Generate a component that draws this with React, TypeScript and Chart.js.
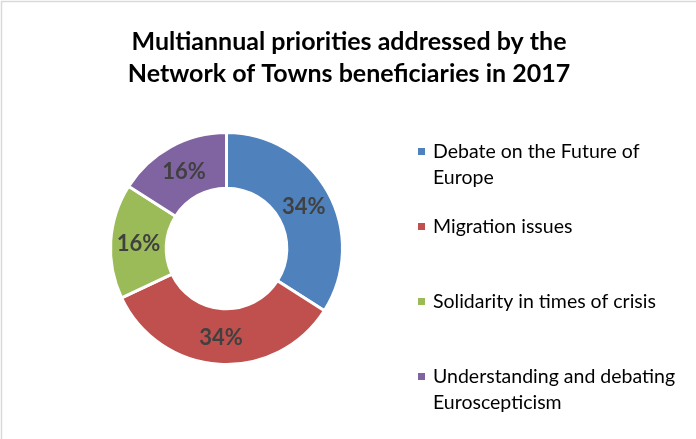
import React, { useEffect, useRef } from "react";
import { Chart, registerables } from "chart.js";

Chart.register(...registerables);

const titleLines = ["Multiannual priorities addressed by the", "Network of Towns beneficiaries in 2017"];
const categories = [
  "Debate on the Future of Europe",
  "Migration issues",
  "Solidarity in times of crisis",
  "Understanding and debating Euroscepticism",
];
const legendLines = [
  ["Debate on the Future of", "Europe"],
  ["Migration issues"],
  ["Solidarity in times of crisis"],
  ["Understanding and debating", "Euroscepticism"],
];
const values = [34, 34, 16, 16];
const colors = ["#4F81BD", "#C0504D", "#9BBB59", "#8064A2"];

const FONT = "Lato, 'Open Sans', sans-serif";

const overlay = {
  id: "overlay",
  afterDatasetsDraw(chart: any) {
    const ctx = chart.ctx;
    const meta = chart.getDatasetMeta(0);
    const total = values.reduce((a, b) => a + b, 0);
    ctx.save();
    ctx.fillStyle = "#404040";
    ctx.font = `bold 22px ${FONT}`;
    ctx.textAlign = "center";
    ctx.textBaseline = "middle";
    meta.data.forEach((arc: any, i: number) => {
      const p = arc.tooltipPosition();
      ctx.fillText(Math.round((values[i] / total) * 100) + "%", p.x, p.y + 1);
    });
    ctx.restore();
  },
  afterDraw(chart: any) {
    const ctx = chart.ctx;
    ctx.save();
    // frame
    ctx.strokeStyle = "#d9d9d9";
    ctx.lineWidth = 1.5;
    ctx.beginPath();
    ctx.moveTo(1.5, 439);
    ctx.lineTo(1.5, 1.5);
    ctx.lineTo(696, 1.5);
    ctx.stroke();
    // title
    ctx.fillStyle = "#000000";
    ctx.font = `bold 25px ${FONT}`;
    ctx.textAlign = "center";
    ctx.textBaseline = "alphabetic";
    titleLines.forEach((t, i) => ctx.fillText(t, 349, 50 + i * 32));
    // legend
    const starts = [152, 227, 302, 377];
    ctx.font = `19.5px ${FONT}`;
    ctx.textAlign = "left";
    ctx.textBaseline = "middle";
    legendLines.forEach((lines, i) => {
      ctx.fillStyle = colors[i];
      ctx.fillRect(418, starts[i] - 4, 7, 7);
      ctx.fillStyle = "#000000";
      lines.forEach((l, j) => ctx.fillText(l, 433, starts[i] + j * 26));
    });
    ctx.restore();
  },
};

export default function App() {
  const ref = useRef<HTMLCanvasElement>(null);
  useEffect(() => {
    const chart = new Chart(ref.current as HTMLCanvasElement, {
      type: "doughnut",
      data: {
        labels: categories,
        datasets: [
          {
            data: values,
            backgroundColor: colors,
            borderColor: "#ffffff",
            borderWidth: 3,
          },
        ],
      },
      options: {
        responsive: false,
        animation: false,
        cutout: "52%",
        layout: { padding: { left: 109, right: 352, top: 131, bottom: 73 } },
        plugins: {
          legend: { display: false },
          title: { display: false },
          tooltip: { enabled: false },
        },
      },
      plugins: [overlay],
    });
    return () => chart.destroy();
  }, []);
  return (
    <div style={{ position: "fixed", left: 0, top: 0, width: 696, height: 439, background: "#fff" }}>
      <canvas ref={ref} width={696} height={439} />
    </div>
  );
}
